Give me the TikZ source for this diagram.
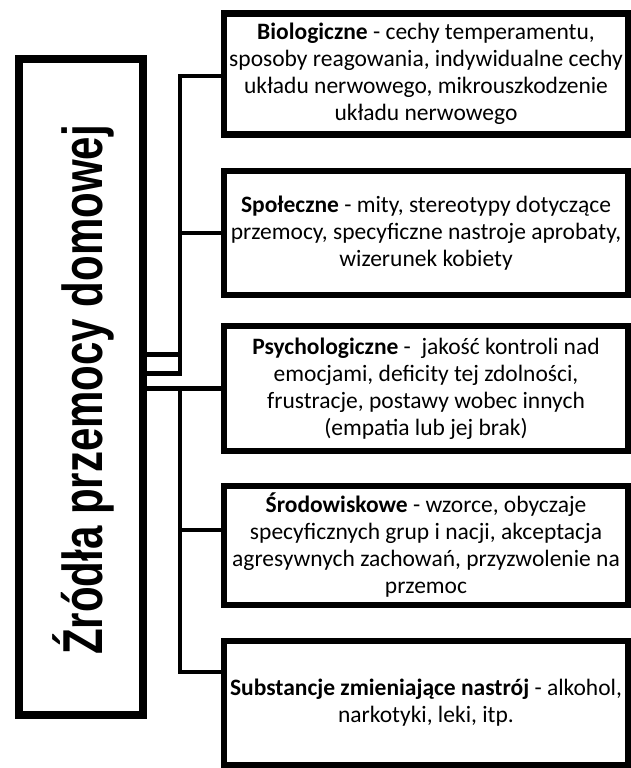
\documentclass[tikz,border=0pt]{standalone}
\usepackage{fontspec}
\setmainfont{Carlito}
\newfontfamily\titlefont{Liberation Sans}
\begin{document}
\begin{tikzpicture}[x=1pt,y=-1pt,
  srcbox/.style={draw, line width=6.5pt, inner sep=0pt, align=center,
    font=\fontsize{23.5}{27}\selectfont, minimum width=404pt},
  mainbox/.style={draw, line width=8pt, inner sep=0pt},
  titletext/.style={rotate=90, yscale=1.34, anchor=base,
    font=\titlefont\bfseries\fontsize{42}{50}\selectfont},
  conn/.style={line width=4.5pt, line join=miter}]
\useasboundingbox (0,0) rectangle (631,768);

\node[mainbox, minimum width=124.5pt, minimum height=656pt] (main) at (80.75,387) {};
\node[titletext] (title) at (102,390) {Źródła przemocy domowej};

\node[srcbox, minimum height=121pt] (b1) at (426,74)
  {\textbf{Biologiczne} - cechy temperamentu,\\ sposoby reagowania, indywidualne cechy\\ układu nerwowego, mikrouszkodzenie\\ układu nerwowego};
\node[srcbox, minimum height=124pt] (b2) at (426,233)
  {\textbf{Społeczne} - mity, stereotypy dotyczące\\ przemocy, specyficzne nastroje aprobaty,\\ wizerunek kobiety};
\node[srcbox, minimum height=125pt] (b3) at (426,388.5)
  {\textbf{Psychologiczne} -\ \ jakość kontroli nad\\ emocjami, deficity tej zdolności,\\ frustracje, postawy wobec innych\\ (empatia lub jej brak)};
\node[srcbox, minimum height=119pt] (b4) at (426,545.5)
  {\textbf{Środowiskowe} - wzorce, obyczaje\\ specyficznych grup i nacji, akceptacja\\ agresywnych zachowań, przyzwolenie na\\ przemoc};
\node[srcbox, minimum height=124pt] (b5) at (426,703)
  {\textbf{Substancje zmieniające nastrój} - alkohol,\\ narkotyki, leki, itp.};

\coordinate (j1) at (180,373.5);
\coordinate (j2) at (180,388.5);
\coordinate (k1) at (180,354.5);
\coordinate (c1) at (224,76);
\coordinate (c4) at (224,530);
\coordinate (c5) at (224,672);

\draw[conn] (c1) -| (j1) -- (main.east |- j1);
\draw[conn] (b2.west) -- (b2.west -| j1);
\draw[conn] (main.east |- k1) -- (k1);
\draw[conn] (main.east |- b3.west) -- (b3.west);
\draw[conn] (j2) |- (c5);
\draw[conn] (c4 -| j2) -- (c4);
\end{tikzpicture}
\end{document}
